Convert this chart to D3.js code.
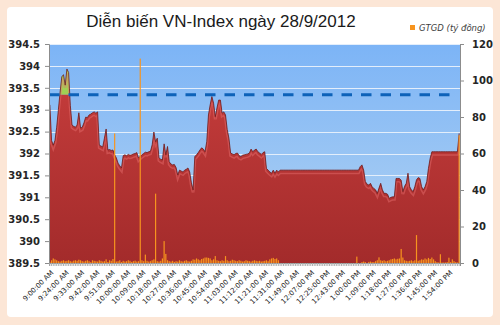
<!DOCTYPE html>
<html>
<head>
<meta charset="utf-8">
<script src="https://cdn.jsdelivr.net/npm/d3@7"></script>
<style>
  html, body { margin: 0; padding: 0; background: #fce6d6; }
  svg { display: block; }
</style>
</head>
<body>
<svg id="chart" width="500" height="325"></svg>
<script>
// x axis labels, one every 9 categories
const tickLabels = [
  '9:00:00 AM', '9:24:00 AM', '9:33:00 AM', '9:42:00 AM', '9:51:00 AM',
  '10:00:00 AM', '10:09:00 AM', '10:18:00 AM', '10:27:00 AM', '10:36:00 AM',
  '10:45:00 AM', '10:54:00 AM', '11:03:00 AM', '11:12:00 AM', '11:21:00 AM',
  '11:31:00 AM', '11:49:00 AM', '12:07:00 PM', '12:25:00 PM', '12:43:00 PM',
  '1:00:00 PM', '1:09:00 PM', '1:18:00 PM', '1:27:00 PM', '1:36:00 PM',
  '1:45:00 PM', '1:54:00 PM'
];
const labelEvery = 9;

// VN-Index, one value per category
const indexValues = [
  393.11, 392.3, 392.19, 392.3, 392.6, 393.0, 393.4, 393.75, 393.8, 393.56,
  393.93, 393.85, 393.1, 392.65, 392.62, 392.6, 392.65, 392.93, 392.58, 392.6,
  392.7, 392.83, 392.82, 392.88, 392.9, 392.93, 392.95, 392.92, 392.95, 392.19,
  392.17, 392.15, 392.35, 392.56, 392.08, 392.09, 392.07, 392.08, 391.97, 391.9,
  391.78, 391.72, 391.67, 391.95, 391.97, 391.95, 391.98, 391.96, 391.97, 391.99,
  392.0, 392.02, 391.9, 391.94, 391.97, 392.0, 392.03, 392.02, 392.04, 392.05,
  392.2, 392.49, 392.27, 392.35, 391.9, 391.87, 391.85, 392.22, 391.97, 392.16,
  391.81, 391.76, 391.74, 391.75, 391.68, 391.51, 391.62, 391.6, 391.58, 391.62,
  391.64, 391.67, 391.58, 391.33, 391.17, 391.93, 391.97, 392.02, 392.08, 392.13,
  392.1, 392.04, 392.27, 392.88, 393.11, 393.3, 393.15, 392.84, 393.04, 393.22,
  393.22, 392.92, 392.95, 392.88, 392.55, 392.35, 392.01, 391.99, 391.97, 392.0,
  392.01, 391.95, 391.93, 391.96, 391.97, 391.98, 391.99, 392.01, 392.1, 392.04,
  392.08, 392.1, 392.04, 392.01, 391.98, 392.02, 392.04, 391.66, 391.62, 391.58,
  391.55, 391.62, 391.55, 391.62, 391.58, 391.62, 391.62, 391.62, 391.62, 391.62,
  391.62, 391.62, 391.62, 391.62, 391.62, 391.62, 391.62, 391.62, 391.62, 391.62,
  391.62, 391.62, 391.62, 391.62, 391.62, 391.62, 391.62, 391.62, 391.62, 391.62,
  391.62, 391.62, 391.62, 391.62, 391.62, 391.62, 391.62, 391.62, 391.62, 391.62,
  391.62, 391.62, 391.62, 391.62, 391.62, 391.62, 391.62, 391.62, 391.62, 391.62,
  391.62, 391.62, 391.7, 391.74, 391.62, 391.36, 391.3, 391.28, 391.32, 391.24,
  391.2, 391.17, 391.09, 391.21, 391.32, 391.17, 391.09, 391.09, 391.07, 390.98,
  391.0, 391.01, 391.01, 391.43, 391.43, 391.43, 391.39, 391.13, 391.25, 391.32,
  391.55, 391.24, 391.17, 391.13, 391.24, 391.4, 391.45, 391.43, 391.24, 391.17,
  391.24, 391.36, 391.66, 391.89, 392.04, 392.04, 392.04, 392.04, 392.04, 392.04,
  392.04, 392.04, 392.04, 392.04, 392.04, 392.04, 392.04, 392.04, 392.04, 392.04,
  392.46
];

// GTGD (ty dong), one value per category
const tradeValues = [
  0.5, 1.5, 2.5, 2, 1.5, 1, 0.8, 1.2, 1.5, 1,
  1.2, 1.5, 1, 0.8, 1.3, 1.5, 1.2, 1.8, 1.5, 1,
  0.8, 1.2, 1.5, 1, 0.5, 1.5, 1.2, 1, 0.8, 1.5,
  1.2, 0.8, 1, 2, 0.6, 1.5, 1.2, 2.2, 71, 0.8,
  1, 1.5, 0.5, 1.2, 0.8, 1, 1.5, 1.2, 0.6, 1,
  1.3, 0.8, 1, 112, 1.5, 1, 4.6, 1.2, 0.8, 1,
  1.5, 2, 38, 1, 0.8, 1.2, 2.5, 12, 5, 1.5,
  1, 0.8, 1.2, 0.6, 1, 0.8, 1.5, 1, 0.8, 1.2,
  1.5, 1, 0.8, 1.2, 2, 1.8, 2.5, 2, 1.5, 2.2,
  2.5, 3, 3, 2.8, 2.5, 1.5, 2, 3.8, 1.5, 1.2,
  1, 1.5, 1.2, 3.8, 1.5, 1, 1.2, 1.8, 1.5, 1.2,
  1, 1.5, 1.2, 0.8, 1, 1.5, 1.2, 1, 0.8, 1.2,
  1.5, 1.2, 1, 1.2, 0.8, 1, 1.2, 1.5, 1, 2,
  2.5, 2.8, 2.2, 2.5, 1.5, 0, 0, 0, 0, 0,
  0, 0, 0, 0, 0, 0, 0, 0, 0, 0,
  0, 0, 0, 0, 0, 0, 0, 0, 0, 0,
  0, 0, 0, 0, 0, 0, 0, 0, 0, 0,
  0, 0, 0, 0, 0, 0, 0, 0, 0, 0,
  3.5, 0, 0, 0.5, 0.8, 0.5, 0, 0.6, 0.8, 0.5,
  0.5, 1, 1.5, 3.1, 1.5, 1.2, 1.5, 1, 1.2, 1.5,
  2, 2.2, 2.5, 2, 2.3, 2.5, 7.7, 3, 1.5, 1.2,
  1, 1.2, 1.5, 1, 1.5, 15.3, 1.2, 1.5, 2, 1.8,
  2.5, 2, 2.8, 2.2, 3, 2, 1, 0.5, 0.3, 4.8,
  0.3, 0.3, 0.3, 0.5, 2.9, 0.5, 2, 1, 0.5, 0.3,
  70
];

const refLevel = 393.34; // dashed reference line
const leftTicks = [389.5, 390, 390.5, 391, 391.5, 392, 392.5, 393, 393.5, 394, 394.5];
const rightTicks = [0, 20, 40, 60, 80, 100, 120];

const svg = d3.select('#chart');
const plot = { left: 49, right: 460, top: 44, bottom: 263 };

const x = d3.scaleBand()
  .domain(d3.range(indexValues.length))
  .range([plot.left, plot.right])
  .paddingInner(0.3)
  .paddingOuter(0.15);
const xMid = (i) => x(i) + x.bandwidth() / 2;
const yL = d3.scaleLinear().domain([389.5, 394.5]).range([plot.bottom, plot.top]);
const yR = d3.scaleLinear().domain([0, 120]).range([plot.bottom, plot.top]);

const defs = svg.append('defs');

function vGrad(id, stops) {
  const g = defs.append('linearGradient').attr('id', id)
    .attr('x1', 0).attr('y1', 0).attr('x2', 0).attr('y2', 1);
  stops.forEach(([o, c]) => g.append('stop').attr('offset', o).attr('stop-color', c));
}
vGrad('skyGrad', [[0, '#7cb4f6'], [1, '#b4d4f2']]);
vGrad('redGrad', [[0, '#c63d3c'], [1, '#a32b2b']]);
vGrad('greenGrad', [[0, '#a6d657'], [1, '#6fae2e']]);

defs.append('clipPath').attr('id', 'belowRef')
  .append('rect')
  .attr('x', plot.left).attr('y', yL(refLevel))
  .attr('width', plot.right - plot.left).attr('height', plot.bottom - yL(refLevel));
defs.append('clipPath').attr('id', 'aboveRef')
  .append('rect')
  .attr('x', plot.left).attr('y', 0)
  .attr('width', plot.right - plot.left).attr('height', yL(refLevel));

// white panel
svg.append('rect')
  .attr('x', 7).attr('y', 7).attr('width', 486).attr('height', 310)
  .attr('rx', 4).attr('fill', '#ffffff');

// plot background
svg.append('rect')
  .attr('x', plot.left).attr('y', plot.top)
  .attr('width', plot.right - plot.left).attr('height', plot.bottom - plot.top)
  .attr('fill', 'url(#skyGrad)');

// gridlines
svg.append('g')
  .selectAll('line')
  .data(leftTicks)
  .join('line')
  .attr('x1', plot.left).attr('x2', plot.right)
  .attr('y1', (d) => Math.round(yL(d)) + 0.5).attr('y2', (d) => Math.round(yL(d)) + 0.5)
  .attr('stroke', '#e3eefb').attr('stroke-width', 1);

// index area
const area = d3.area()
  .x((d, i) => xMid(i))
  .y0(yL(389.5))
  .y1((d) => yL(d));
const topLine = d3.line()
  .x((d, i) => xMid(i))
  .y((d) => yL(d));

svg.append('path')
  .datum(indexValues)
  .attr('d', area)
  .attr('fill', 'url(#greenGrad)')
  .attr('clip-path', 'url(#aboveRef)');
svg.append('path')
  .datum(indexValues)
  .attr('d', area)
  .attr('fill', 'url(#redGrad)')
  .attr('clip-path', 'url(#belowRef)');

// bevel highlight under the top edge
defs.append('clipPath').attr('id', 'areaClip')
  .append('path').datum(indexValues).attr('d', area);
svg.append('path')
  .datum(indexValues)
  .attr('d', topLine)
  .attr('transform', 'translate(0,2.5)')
  .attr('fill', 'none')
  .attr('stroke', '#e87070')
  .attr('stroke-opacity', 0.45)
  .attr('stroke-width', 3)
  .attr('clip-path', 'url(#areaClip)');
svg.append('path')
  .datum(indexValues)
  .attr('d', topLine)
  .attr('fill', 'none')
  .attr('stroke', '#6e1b1b')
  .attr('stroke-width', 0.8);

// reference line
svg.append('line')
  .attr('x1', plot.left).attr('x2', 452)
  .attr('y1', yL(refLevel)).attr('y2', yL(refLevel))
  .attr('stroke', '#0d62b9')
  .attr('stroke-width', 3)
  .attr('stroke-dasharray', '10.5,9');

// GTGD bars
svg.append('g')
  .selectAll('rect')
  .data(tradeValues)
  .join('rect')
  .attr('x', (d, i) => x(i))
  .attr('y', (d) => yR(d))
  .attr('width', x.bandwidth())
  .attr('height', (d) => yR(0) - yR(d))
  .attr('fill', '#f7941e');

// axes
const axisColor = '#8c8c8c';
const font = 'DejaVu Sans, Verdana, sans-serif';

const leftAxis = svg.append('g')
  .attr('transform', `translate(${plot.left},0)`)
  .call(d3.axisLeft(yL).tickValues(leftTicks).tickSize(4).tickPadding(5)
    .tickFormat((d) => String(+d.toFixed(1))));

const rightAxis = svg.append('g')
  .attr('transform', `translate(${plot.right},0)`)
  .call(d3.axisRight(yR).tickValues(rightTicks).tickSize(4).tickPadding(8));

const minorAxis = svg.append('g')
  .attr('transform', `translate(0,${plot.bottom})`)
  .call(d3.axisBottom(x).tickValues(x.domain()).tickSize(3).tickFormat(''));

const labelAxis = svg.append('g')
  .attr('transform', `translate(0,${plot.bottom})`)
  .call(d3.axisBottom(x)
    .tickValues(tickLabels.map((t, k) => k * labelEvery))
    .tickSize(0)
    .tickFormat((i) => tickLabels[i / labelEvery]));
labelAxis.select('.domain').remove();
labelAxis.selectAll('text')
  .attr('font-size', 7)
  .attr('font-family', font)
  .attr('fill', '#222')
  .attr('text-anchor', 'end')
  .attr('dy', 0)
  .attr('transform', 'translate(2,8) rotate(-45)');

[leftAxis, rightAxis, minorAxis].forEach((g) => {
  g.select('.domain').attr('stroke', axisColor);
  g.selectAll('.tick line').attr('stroke', axisColor);
});
minorAxis.selectAll('.tick line').attr('stroke', '#b0b0b0');
[leftAxis, rightAxis].forEach((g) => {
  g.selectAll('text')
    .attr('font-size', 10)
    .attr('font-family', font)
    .attr('font-weight', 'bold')
    .attr('fill', '#262626');
});

// title
svg.append('text')
  .attr('x', 221)
  .attr('y', 27)
  .attr('text-anchor', 'middle')
  .attr('font-family', 'Liberation Sans, Arial, sans-serif')
  .attr('font-size', 17)
  .attr('fill', '#1a1a1a')
  .text('Diễn biến VN-Index ngày 28/9/2012');

// legend
svg.append('rect')
  .attr('x', 410).attr('y', 25).attr('width', 5).attr('height', 5)
  .attr('fill', '#f7941e');
svg.append('text')
  .attr('x', 419).attr('y', 31)
  .attr('font-family', font)
  .attr('font-size', 8.5)
  .attr('font-style', 'italic')
  .attr('fill', '#404040')
  .text('GTGD (tỷ đồng)');
</script>
</body>
</html>
